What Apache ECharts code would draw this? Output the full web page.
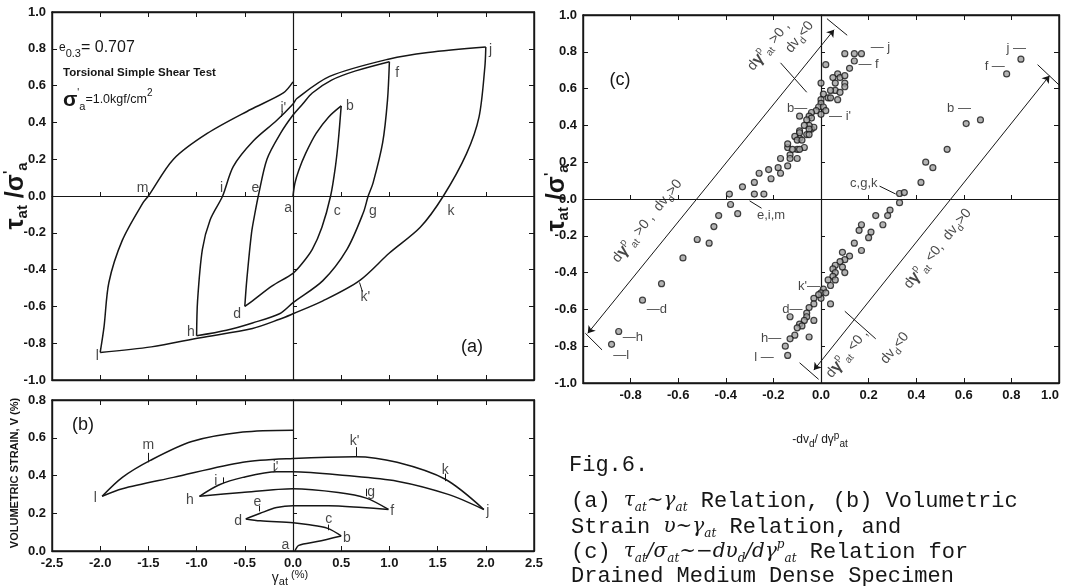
<!DOCTYPE html>
<html>
<head>
<meta charset="utf-8">
<script src="https://cdn.jsdelivr.net/npm/echarts@6.0.0/dist/echarts.min.js"></script>
<style>
  html, body { margin: 0; background: #fff; }
  #main { width: 1065px; height: 586px; }
</style>
</head>
<body>
<div id="main"></div>
<script>
// (a) tau/sigma' vs gamma_at (%) : one array per loading branch
var branchAB = [[0, 0], [0.02, 0.07], [0.06, 0.14], [0.13, 0.23], [0.24, 0.34], [0.37, 0.43], [0.5, 0.49]];
var branchBD = [[0.5, 0.49], [0.47, 0.3], [0.44, 0.16], [0.39, 0], [0.3, -0.17], [0.2, -0.29], [0.09, -0.37], [0, -0.42], [-0.22, -0.49], [-0.42, -0.57], [-0.5, -0.6]];
var branchDF = [[-0.5, -0.6], [-0.48, -0.46], [-0.43, -0.2], [-0.39, -0.08], [-0.36, 0], [-0.27, 0.2], [-0.13, 0.34], [0, 0.44], [0.1, 0.5], [0.2, 0.56], [0.4, 0.63], [0.65, 0.68], [1.0, 0.73]];
var branchFH = [[1.0, 0.73], [0.98, 0.52], [0.93, 0.29], [0.83, 0.07], [0.78, 0], [0.73, -0.09], [0.56, -0.29], [0.31, -0.46], [0, -0.58], [-0.14, -0.64], [-0.42, -0.69], [-0.69, -0.73], [-1.0, -0.76]];
var branchHJ = [[-1.0, -0.76], [-0.99, -0.57], [-0.94, -0.29], [-0.86, -0.13], [-0.73, 0], [-0.62, 0.16], [-0.41, 0.3], [-0.17, 0.41], [0, 0.5], [0.04, 0.53], [0.38, 0.65], [1.0, 0.745], [1.4, 0.78], [2.0, 0.81]];
var branchJL = [[2.0, 0.81], [1.99, 0.7], [1.93, 0.43], [1.8, 0.23], [1.56, 0], [1.32, -0.17], [1.0, -0.31], [0.69, -0.46], [0.31, -0.57], [0, -0.64], [-0.14, -0.67], [-0.42, -0.72], [-0.96, -0.77], [-1.47, -0.82], [-2.0, -0.85]];
var branchLM = [[-2.0, -0.85], [-1.96, -0.71], [-1.91, -0.47], [-1.77, -0.24], [-1.56, -0.04], [-1.5, 0], [-1.24, 0.2], [-0.89, 0.34], [-0.44, 0.47], [-0.1, 0.56], [0, 0.62]];

// (b) volumetric strain (%) vs gamma_at (%)
var volAB = [[0.02, 0], [0.06, 0.03], [0.25, 0.05], [0.5, 0.08]];
var volBD = [[0.5, 0.08], [0.36, 0.12], [0.15, 0.14], [0, 0.15], [-0.34, 0.16], [-0.49, 0.17]];
var volDF = [[-0.49, 0.17], [-0.34, 0.2], [-0.17, 0.23], [0, 0.24], [0.37, 0.24], [0.72, 0.23], [0.99, 0.22]];
var volFH = [[0.99, 0.22], [0.76, 0.28], [0.47, 0.31], [0, 0.33], [-0.53, 0.31], [-0.97, 0.29]];
var volHJ = [[-0.97, 0.29], [-0.77, 0.35], [-0.52, 0.39], [-0.17, 0.42], [0, 0.42], [0.55, 0.4], [1.08, 0.37], [1.61, 0.3], [1.98, 0.22]];
var volJL = [[1.98, 0.22], [1.58, 0.38], [1.08, 0.47], [0.65, 0.5], [0, 0.49], [-0.52, 0.47], [-1.24, 0.39], [-1.77, 0.33], [-1.98, 0.29]];
var volLM = [[-1.98, 0.29], [-1.77, 0.39], [-1.48, 0.48], [-1.05, 0.58], [-0.52, 0.63], [0, 0.64]];

// (c) tau/sigma' vs -dv_d/dgamma^p
var dilLeftArm = [[-0.88, -0.79], [-0.85, -0.72], [-0.75, -0.55], [-0.67, -0.46], [-0.58, -0.32], [-0.52, -0.22], [-0.47, -0.24], [-0.45, -0.15], [-0.43, -0.09], [-0.38, -0.03], [-0.35, -0.08]];
var dilUpperLeft = [[-0.385, 0.027], [-0.28, 0.027], [-0.24, 0.027], [-0.33, 0.066], [-0.28, 0.09], [-0.26, 0.14], [-0.22, 0.16], [-0.21, 0.11], [-0.18, 0.17], [-0.17, 0.14], [-0.17, 0.22], [-0.13, 0.24], [-0.14, 0.28], [-0.1, 0.22], [-0.1, 0.27], [-0.09, 0.33], [-0.07, 0.28], [-0.06, 0.35], [-0.04, 0.38], [-0.09, 0.37], [-0.14, 0.18], [-0.13, 0.22], [-0.12, 0.27], [-0.14, 0.3]];
var dilUpperCore = [[0.02, 0.73], [0.0, 0.63], [0.1, 0.79], [0.14, 0.79], [0.17, 0.79], [0.14, 0.75], [0.12, 0.71], [0.07, 0.68], [0.05, 0.66], [0.08, 0.66], [0.1, 0.67], [0.06, 0.63], [0.1, 0.63], [0.1, 0.61], [0.06, 0.59], [0.04, 0.59], [0.08, 0.58], [0.01, 0.57], [0.03, 0.55], [0.04, 0.55], [0.07, 0.54], [0.0, 0.54], [0.0, 0.52], [-0.01, 0.5], [0.01, 0.5], [0.02, 0.48], [-0.02, 0.48], [0.0, 0.46], [-0.04, 0.47], [-0.05, 0.45], [-0.09, 0.45], [-0.04, 0.44], [-0.06, 0.43], [-0.03, 0.39], [-0.05, 0.4], [-0.07, 0.4], [-0.05, 0.38], [-0.05, 0.35], [-0.09, 0.36], [-0.11, 0.34], [-0.1, 0.32], [-0.08, 0.32], [-0.09, 0.27]];
var dilRightArm = [[0.84, 0.76], [0.78, 0.68], [0.61, 0.41], [0.67, 0.43], [0.53, 0.27], [0.44, 0.2], [0.47, 0.17], [0.42, 0.09], [0.33, 0.03], [0.35, 0.035], [0.33, -0.02]];
var dilLowerCore = [[0.29, -0.06], [0.28, -0.09], [0.26, -0.14], [0.23, -0.09], [0.17, -0.14], [0.21, -0.18], [0.2, -0.21], [0.16, -0.17], [0.14, -0.24], [0.17, -0.28], [0.09, -0.29], [0.12, -0.31], [0.1, -0.33], [0.08, -0.34], [0.06, -0.36], [0.09, -0.37], [0.1, -0.4], [0.05, -0.38], [0.06, -0.4], [0.05, -0.42], [0.03, -0.44], [0.06, -0.44], [0.04, -0.47], [0.01, -0.49], [0.0, -0.51], [0.02, -0.51], [0.0, -0.54], [-0.01, -0.52], [-0.03, -0.54], [0.04, -0.57], [-0.03, -0.57], [-0.05, -0.59], [-0.06, -0.62], [-0.03, -0.66], [-0.06, -0.64], [-0.07, -0.66], [-0.09, -0.68], [-0.08, -0.69], [-0.13, -0.64], [-0.1, -0.7], [-0.05, -0.75], [-0.11, -0.74], [-0.13, -0.76], [-0.15, -0.8], [-0.14, -0.85]];

// point tags
var tagsA = [[-1.56, 0.045, 'm'], [-0.74, 0.045, 'i'], [-0.39, 0.045, 'e'], [-0.05, -0.065, 'a'], [0.46, -0.08, 'c'], [0.83, -0.08, 'g'], [1.64, -0.08, 'k'], [0.59, 0.49, 'b'], [1.08, 0.67, 'f'], [2.05, 0.79, 'j'], [-0.1, 0.48, "i'"], [0.75, -0.55, "k'"], [-0.58, -0.64, 'd'], [-1.06, -0.74, 'h'], [-2.03, -0.87, 'l']];
var tagsB = [[-1.5, 0.56, 'm'], [0.64, 0.58, "k'"], [1.58, 0.43, 'k'], [-0.18, 0.445, "i'"], [-0.8, 0.37, 'i'], [0.81, 0.31, 'g'], [-0.37, 0.26, 'e'], [0.37, 0.17, 'c'], [-0.08, 0.03, 'a'], [0.56, 0.066, 'b'], [-0.57, 0.16, 'd'], [-1.07, 0.27, 'h'], [-2.05, 0.28, 'l'], [1.03, 0.21, 'f'], [2.02, 0.21, 'j']];
var tagsC = [[0.25, 0.825, '— j'], [0.2, 0.73, '— f'], [-0.1, 0.49, 'b—'], [0.08, 0.45, "— i'"], [0.82, 0.82, 'j —'], [0.73, 0.72, 'f —'], [0.58, 0.49, 'b —'], [0.18, 0.085, 'c,g,k'], [-0.21, -0.09, 'e,i,m'], [-0.05, -0.475, "k'—"], [-0.12, -0.6, 'd—'], [-0.21, -0.76, 'h—'], [-0.24, -0.86, 'l —'], [-0.69, -0.6, '—d'], [-0.79, -0.755, '—h'], [-0.84, -0.85, '—l']];
var ticksA = [[[-0.12, 0.43], [-0.11, 0.46]], [[0.69, -0.47], [0.72, -0.52]]];
var ticksB = [[[-1.5, 0.47], [-1.5, 0.52]], [[0.66, 0.5], [0.66, 0.55]], [[1.58, 0.37], [1.58, 0.41]], [[-0.2, 0.42], [-0.16, 0.44]], [[-0.72, 0.36], [-0.72, 0.39]], [[0.76, 0.29], [0.76, 0.33]], [[-0.35, 0.21], [-0.35, 0.24]], [[0.37, 0.11], [0.37, 0.14]]];
var leadersC = [[[0.246, 0.07], [0.314, 0.027]], [[-0.3, -0.01], [-0.25, -0.05]], [[-0.99, -0.73], [-0.92, -0.82]], [[0.025, 0.98], [0.11, 0.89]], [[-0.17, 0.74], [-0.06, 0.58]], [[-0.09, -0.89], [-0.01, -0.98]], [[0.91, 0.73], [1.0, 0.62]], [[0.1, -0.61], [0.23, -0.76]]];
var boundsC = [[[-0.98, -0.73], [0.055, 0.92]], [[-0.03, -0.93], [0.96, 0.67]]];
var slantC = [
  [-0.22, 0.83, '{n|d}{g|γ}{sp|p}{sb|at}{n| >0 ,}'],
  [-0.09, 0.88, '{n|dv}{sb|d}{n|<0}'],
  [-0.73, -0.12, '{n|d}{g|γ}{sp|p}{sb|at}{n| >0 ,  dv}{sb|d}{n|>0}'],
  [0.49, -0.27, '{n|d}{g|γ}{sp|p}{sb|at}{n| <0,  dv}{sb|d}{n|>0}'],
  [0.11, -0.84, '{n|d}{g|γ}{sp|p}{sb|at}{n| <0 ,}'],
  [0.31, -0.81, '{n|dv}{sb|d}{n|<0}']
];

var FONT = 'Liberation Sans';
var INK = '#161616';
var myChart = echarts.init(document.getElementById('main'));

function fmt1(v) { return Math.abs(v) < 1e-9 ? '0.0' : v.toFixed(1); }

function frameAxis(grid, pos, min, max, step, labels, formatter) {
  return {
    type: 'value', gridIndex: grid, position: pos, min: min, max: max, interval: step,
    axisLine: { show: true, onZero: false, lineStyle: { color: INK, width: 1.4 } },
    axisTick: { show: true, inside: true, length: 5, lineStyle: { color: INK, width: 1 } },
    axisLabel: { show: labels, color: INK, fontFamily: FONT, fontWeight: 'bold', fontSize: 13, margin: 6, formatter: formatter || fmt1 },
    splitLine: { show: false }
  };
}
function zeroAxis(grid, pos, min, max, step) {
  return {
    type: 'value', gridIndex: grid, position: pos, min: min, max: max, interval: step,
    axisLine: { show: true, onZero: true, lineStyle: { color: INK, width: 1.2 } },
    axisTick: { show: true, inside: false, length: 4, lineStyle: { color: INK, width: 1 } },
    axisLabel: { show: false },
    splitLine: { show: false }
  };
}
function curve(xi, yi, pts) {
  return { type: 'line', xAxisIndex: xi, yAxisIndex: yi, data: pts, smooth: 0.3, symbol: 'none',
    lineStyle: { color: INK, width: 1.5 }, silent: true, z: 3 };
}
function segs(xi, yi, list, arrows) {
  return { type: 'lines', coordinateSystem: 'cartesian2d', xAxisIndex: xi, yAxisIndex: yi,
    data: list.map(function (c) { return { coords: c }; }),
    symbol: arrows ? ['arrow', 'arrow'] : ['none', 'none'], symbolSize: 7,
    lineStyle: { color: INK, width: 1, opacity: 1, curveness: 0 }, silent: true, z: 4 };
}
function tags(xi, yi, list, extra) {
  var label = { show: true, position: 'inside', formatter: function (p) { return p.data.txt; },
    color: INK, fontFamily: FONT, fontSize: 14 };
  if (extra) Object.assign(label, extra);
  return { type: 'scatter', xAxisIndex: xi, yAxisIndex: yi, symbolSize: 0, silent: true, z: 5,
    data: list.map(function (t) { return { value: [t[0], t[1]], txt: t[2] }; }), label: label };
}
var dots = { type: 'scatter', xAxisIndex: 5, yAxisIndex: 6, symbol: 'circle', symbolSize: 6, silent: true, z: 4,
  itemStyle: { color: '#a0a0a0', borderColor: INK, borderWidth: 1.2 },
  data: [].concat(dilLeftArm, dilUpperLeft, dilUpperCore, dilRightArm, dilLowerCore) };

var slantRich = {
  n: { fontSize: 14, fontFamily: FONT, color: INK, lineHeight: 20 },
  g: { fontSize: 16, fontFamily: FONT, fontWeight: 'bold', color: INK, lineHeight: 20 },
  sp: { fontSize: 10, fontFamily: FONT, color: INK, lineHeight: 9, verticalAlign: 'top' },
  sb: { fontSize: 10, fontFamily: FONT, color: INK, lineHeight: 9, verticalAlign: 'bottom' }
};
var gRich = {
  t: { fontSize: 25, fontFamily: FONT, fontWeight: 'bold', fill: INK, lineHeight: 28 },
  sp: { fontSize: 14, fontFamily: FONT, fontWeight: 'bold', fill: INK, lineHeight: 13, verticalAlign: 'top' },
  sb: { fontSize: 15, fontFamily: FONT, fontWeight: 'bold', fill: INK, lineHeight: 13, verticalAlign: 'bottom' }
};
var capRich = {
  m: { fontSize: 22, fontFamily: 'Liberation Mono', fill: INK, lineHeight: 26 },
  it: { fontSize: 20, fontFamily: 'DejaVu Serif', fontStyle: 'italic', fill: INK, lineHeight: 26 },
  sb: { fontSize: 12, fontFamily: 'DejaVu Serif', fontStyle: 'italic', fill: INK, lineHeight: 12, verticalAlign: 'bottom' },
  sp: { fontSize: 12, fontFamily: 'DejaVu Serif', fontStyle: 'italic', fill: INK, lineHeight: 12, verticalAlign: 'top' }
};
function txt(x, y, text, rich, opts) {
  var el = { type: 'text', x: x, y: y, silent: true,
    style: { text: text, rich: rich, fill: INK, fontFamily: FONT, fontSize: 12,
      align: 'left', verticalAlign: 'middle', textAlign: 'left', textVerticalAlign: 'middle' } };
  if (opts) {
    if (opts.rotation) el.rotation = opts.rotation;
    if (opts.center) { el.style.align = 'center'; el.style.textAlign = 'center'; }
    if (opts.size) el.style.fontSize = opts.size;
    if (opts.weight) el.style.fontWeight = opts.weight;
  }
  return el;
}

var xAxisC = frameAxis(2, 'bottom', -1, 1, 0.2, true, function (v) { return v < -0.99 ? '' : fmt1(v); });
xAxisC.axisLabel.alignMaxLabel = 'right';

var option = {
  animation: false,
  backgroundColor: '#fff',
  grid: [
    { left: 52, top: 12, width: 482, height: 368, show: true, borderColor: INK, borderWidth: 1.4, outerBoundsMode: 'none' },
    { left: 52, top: 400, width: 482, height: 151, show: true, borderColor: INK, borderWidth: 1.4, outerBoundsMode: 'none' },
    { left: 583, top: 15, width: 476, height: 368, show: true, borderColor: INK, borderWidth: 1.4, outerBoundsMode: 'none' }
  ],
  xAxis: [
    frameAxis(0, 'bottom', -2.5, 2.5, 0.5, false),
    frameAxis(0, 'top', -2.5, 2.5, 0.5, false),
    zeroAxis(0, 'top', -2.5, 2.5, 0.5),
    frameAxis(1, 'bottom', -2.5, 2.5, 0.5, true),
    frameAxis(1, 'top', -2.5, 2.5, 0.5, false),
    xAxisC,
    frameAxis(2, 'top', -1, 1, 0.2, false),
    zeroAxis(2, 'top', -1, 1, 0.2)
  ],
  yAxis: [
    frameAxis(0, 'left', -1, 1, 0.2, true),
    frameAxis(0, 'right', -1, 1, 0.2, false),
    zeroAxis(0, 'right', -1, 1, 0.2),
    frameAxis(1, 'left', 0, 0.8, 0.2, true),
    frameAxis(1, 'right', 0, 0.8, 0.2, false),
    zeroAxis(1, 'right', 0, 0.8, 0.2),
    frameAxis(2, 'left', -1, 1, 0.2, true),
    frameAxis(2, 'right', -1, 1, 0.2, false),
    zeroAxis(2, 'right', -1, 1, 0.2)
  ],
  series: [
    curve(0, 0, branchAB), curve(0, 0, branchBD), curve(0, 0, branchDF), curve(0, 0, branchFH),
    curve(0, 0, branchHJ), curve(0, 0, branchJL), curve(0, 0, branchLM),
    tags(0, 0, tagsA), segs(0, 0, ticksA, false),
    curve(3, 3, volAB), curve(3, 3, volBD), curve(3, 3, volDF), curve(3, 3, volFH),
    curve(3, 3, volHJ), curve(3, 3, volJL), curve(3, 3, volLM),
    tags(3, 3, tagsB), segs(3, 3, ticksB, false),
    dots,
    segs(5, 6, boundsC, true), segs(5, 6, leadersC, false),
    tags(5, 6, tagsC, { fontSize: 13 }),
    tags(5, 6, slantC, { rotate: 51, rich: slantRich })
  ],
  graphic: [
    txt(16, 196, '{t|τ}{sb|at}{t| /σ}{sp|\'}{sb|a}', gRich, { rotation: Math.PI / 2, center: true }),
    txt(557, 198, '{t|τ}{sb|at}{t| /σ}{sp|\'}{sb|a}', gRich, { rotation: Math.PI / 2, center: true }),
    txt(15, 473, 'VOLUMETRIC STRAIN, V (%)', null, { rotation: Math.PI / 2, center: true, size: 11, weight: 'bold' }),
    txt(290, 578, '{g|γ}{sb|at}{sp| (%)}', {
      g: { fontSize: 14, fontFamily: FONT, fill: INK, lineHeight: 18 },
      sb: { fontSize: 11, fontFamily: FONT, fill: INK, lineHeight: 9, verticalAlign: 'bottom' },
      sp: { fontSize: 11, fontFamily: FONT, fill: INK, lineHeight: 9, verticalAlign: 'top' }
    }, { center: true }),
    txt(820, 440, '{n|-dv}{sb|d}{n|/ dγ}{sp|p}{sb|at}', {
      n: { fontSize: 12, fontFamily: FONT, fill: INK, lineHeight: 18 },
      sb: { fontSize: 10, fontFamily: FONT, fill: INK, lineHeight: 8, verticalAlign: 'bottom' },
      sp: { fontSize: 10, fontFamily: FONT, fill: INK, lineHeight: 8, verticalAlign: 'top' }
    }, { center: true }),
    txt(59, 48, '{e|e}{sb|0.3}{b|= 0.707}', {
      e: { fontSize: 12, fontFamily: FONT, fill: INK, lineHeight: 22 },
      sb: { fontSize: 11, fontFamily: FONT, fill: INK, lineHeight: 10, verticalAlign: 'bottom' },
      b: { fontSize: 16, fontFamily: FONT, fill: INK, lineHeight: 22 }
    }),
    txt(63, 73, 'Torsional Simple Shear Test', null, { size: 11.5, weight: 'bold' }),
    txt(63, 100, '{t|σ}{sp|\'}{sb|a}{n|=1.0kgf/cm}{sp|2}', {
      t: { fontSize: 21, fontFamily: FONT, fontWeight: 'bold', fill: INK, lineHeight: 24 },
      n: { fontSize: 12.5, fontFamily: FONT, fill: INK, lineHeight: 24 },
      sp: { fontSize: 10, fontFamily: FONT, fill: INK, lineHeight: 11, verticalAlign: 'top' },
      sb: { fontSize: 11, fontFamily: FONT, fill: INK, lineHeight: 11, verticalAlign: 'bottom' }
    }),
    txt(472, 347, '(a)', null, { size: 18, center: true }),
    txt(83, 425, '(b)', null, { size: 18, center: true }),
    txt(620, 80, '(c)', null, { size: 18, center: true }),
    txt(569, 465, '{m|Fig.6.}', capRich),
    txt(571, 501, '{m|(a) }{it|τ}{sb|at}{it|~γ}{sb|at}{m| Relation, (b) Volumetric}', capRich),
    txt(571, 527, '{m|Strain }{it|υ~γ}{sb|at}{m| Relation, and}', capRich),
    txt(571, 552, '{m|(c) }{it|τ}{sb|at}{it|/σ}{sb|at}{it|~−dυ}{sb|d}{it|/dγ}{sp|p}{sb|at}{m| Relation for}', capRich),
    txt(571, 576, '{m|Drained Medium Dense Specimen}', capRich)
  ]
};
myChart.setOption(option);
</script>
</body>
</html>
